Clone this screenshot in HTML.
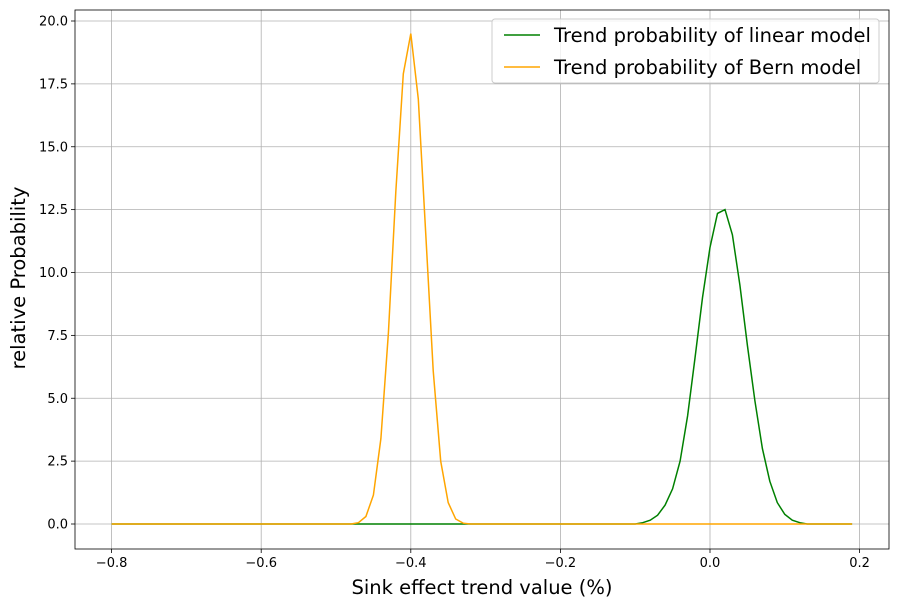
<!DOCTYPE html>
<html><head><meta charset="utf-8"><style>
body{margin:0;background:#fff;}
text{font-family:"DejaVu Sans","Liberation Sans",sans-serif;}
</style></head><body>
<svg id="s" width="899" height="607" xmlns="http://www.w3.org/2000/svg">
<rect width="899" height="607" fill="#fff"/>
<g id="grid" stroke="#b0b0b0" stroke-width="0.8"></g>
<g id="curves" fill="none" stroke-width="1.5"></g>
<rect x="75" y="10" width="814" height="539" fill="none" stroke="#000" stroke-width="0.8"/>
<g id="ticks" font-size="13" fill="#000"></g>
<text x="482" y="594" font-size="19.5" text-anchor="middle">Sink effect trend value (%)</text>
<text transform="translate(25,278) rotate(-90)" font-size="19.5" text-anchor="middle">relative Probability</text>
<g>
<rect x="492" y="19" width="387" height="64" rx="3" fill="#fff" fill-opacity="0.8" stroke="#ccc"/>
<line x1="504" y1="35" x2="540" y2="35" stroke="green" stroke-width="1.5"/>
<text x="554" y="42" font-size="19.5">Trend probability of linear model</text>
<line x1="504" y1="67" x2="540" y2="67" stroke="orange" stroke-width="1.5"/>
<text x="554" y="74" font-size="19.5">Trend probability of Bern model</text>
</g>
</svg>
<script>
const X=v=>710+748*v, Y=v=>524-25.15*v;
const g=document.getElementById('grid'),t=document.getElementById('ticks'),c=document.getElementById('curves');
let h='',tk='';
[-0.8,-0.6,-0.4,-0.2,0,0.2].forEach(v=>{const x=X(v);h+=`<line x1="${x}" y1="10" x2="${x}" y2="549"/>`;
tk+=`<line x1="${x}" y1="549" x2="${x}" y2="553" stroke="#000" stroke-width="0.8"/><text x="${x}" y="567" text-anchor="middle">${v===0?'0.0':(v<0?'−'+Math.abs(v).toFixed(1):v.toFixed(1))}</text>`;});
for(let i=0;i<=8;i++){const v=i*2.5,y=Y(v);h+=`<line x1="75" y1="${y}" x2="889" y2="${y}"/>`;
tk+=`<line x1="71" y1="${y}" x2="75" y2="${y}" stroke="#000" stroke-width="0.8"/><text x="68" y="${y+4.5}" text-anchor="end">${v.toFixed(1)}</text>`;}
g.innerHTML=h;t.innerHTML=tk;
const bern={'-47':0.05,'-46':0.3,'-45':1.15,'-44':3.4,'-43':7.6,'-42':13.2,'-41':17.9,'-40':19.5,'-39':16.9,'-38':11.5,'-37':6.1,'-36':2.5,'-35':0.85,'-34':0.2,'-33':0.03};
const lin={'-9':0.05,'-8':0.15,'-7':0.35,'-6':0.75,'-5':1.4,'-4':2.5,'-3':4.3,'-2':6.6,'-1':9.0,'0':11.0,'1':12.35,'2':12.5,'3':11.5,'4':9.5,'5':7.1,'6':4.9,'7':3.0,'8':1.7,'9':0.85,'10':0.38,'11':0.15,'12':0.05};
function pts(d){let p=[];for(let i=-80;i<=19;i++){p.push(X(i/100).toFixed(1)+','+Y(d[String(i)]||0).toFixed(1));}return p.join(' ');}
c.innerHTML=`<polyline points="${pts(lin)}" stroke="green"/><polyline points="${pts(bern)}" stroke="orange"/>`;
</script>
</body></html>
